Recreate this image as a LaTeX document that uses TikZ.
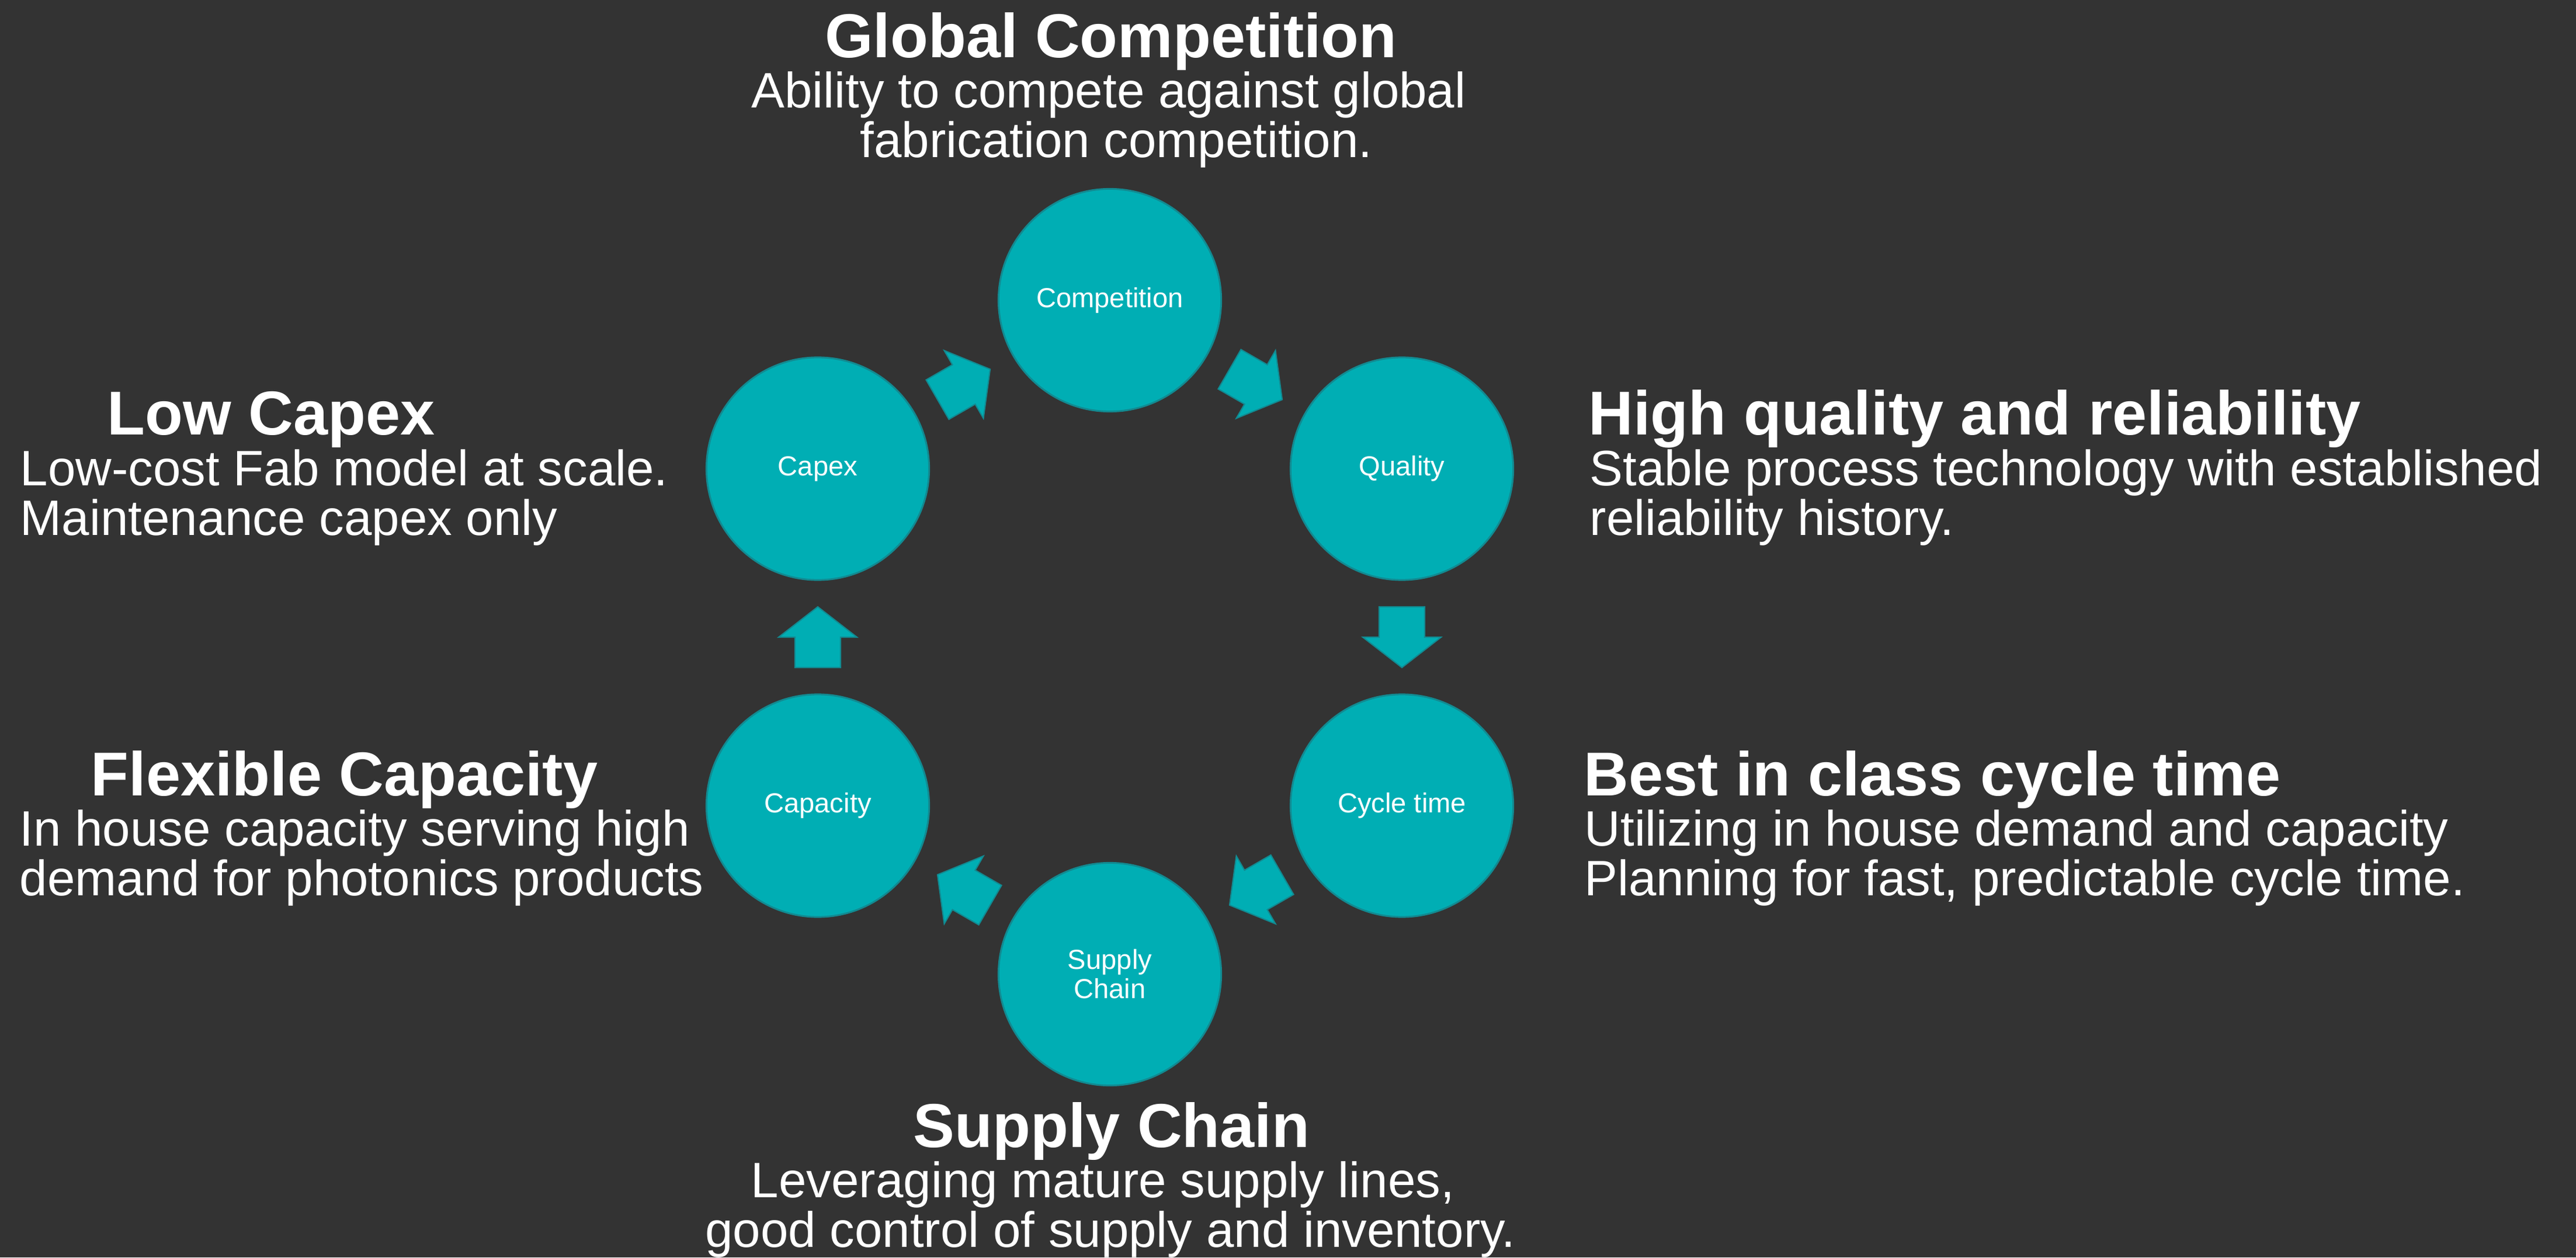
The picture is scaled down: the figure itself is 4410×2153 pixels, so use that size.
\documentclass[tikz,border=0pt]{standalone}
\usepackage{fontspec}
\setmainfont{Liberation Sans}
\usetikzlibrary{calc}
\definecolor{bg}{RGB}{51,51,51}
\definecolor{tealfill}{RGB}{0,174,180}
\definecolor{tealedge}{RGB}{18,138,145}
\tikzset{
  hub/.style={circle, fill=tealfill, draw=tealedge, line width=0.85pt,
    minimum size=3.81cm, inner sep=0pt, text=white, align=center,
    font=\fontsize{13.4pt}{14.2pt}\selectfont},
  ttl/.style={text=white, inner sep=0pt, font=\fontsize{30.2pt}{30pt}\selectfont\bfseries},
  dsc/.style={text=white, inner sep=0pt, font=\fontsize{24.25pt}{24pt}\selectfont},
  blk/.style={fill=tealfill, draw=tealedge, line width=0.6pt, line join=miter}
}
\newcommand\flowarrow[3]{%
  \begin{scope}[shift={($(#1)!0.5!(#2)$)}, rotate=#3]
    \filldraw[blk] (-52,39) -- (0,39) -- (0,67) -- (52,0) -- (0,-67) -- (0,-39) -- (-52,-39) -- cycle;
  \end{scope}}
\begin{document}
\begin{tikzpicture}[x=0.01cm,y=0.01cm]
\fill[bg] (0,0) rectangle (4410,2153);
\useasboundingbox (0,0) rectangle (4410,2153);

% circles
\node[hub] (comp) at (1900,1639) {Competition};
\node[hub] (qual) at (2400,1350.5) {Quality};
\node[hub] (cyc)  at (2400,773.5) {Cycle time};
\node[hub] (sup)  at (1900,485) {Supply\\Chain};
\node[hub] (cap)  at (1400,773.5) {Capacity};
\node[hub] (cpx)  at (1400,1350.5) {Capex};

% block arrows (clockwise)
\flowarrow{comp}{qual}{-30}
\flowarrow{qual}{cyc}{-90}
\flowarrow{cyc}{sup}{-150}
\flowarrow{sup}{cap}{150}
\flowarrow{cap}{cpx}{90}
\flowarrow{cpx}{comp}{30}

% Global Competition
\node[ttl, anchor=base] (gct) at (1902,2054) {Global Competition};
\node[dsc, anchor=base] (gcd1) at (1898,1968) {Ability to compete against global};
\node[dsc, anchor=base] (gcd2) at (1911,1883) {fabrication competition.};

% Low Capex
\node[ttl, anchor=base west] (lct) at (183,1409) {Low Capex};
\node[dsc, anchor=base west] (lcd1) at (34,1321) {Low-cost Fab model at scale.};
\node[dsc, anchor=base west] (lcd2) at (34,1237) {Maintenance capex only};

% High quality
\node[ttl, anchor=base west] (hqt) at (2719,1409) {High quality and reliability};
\node[dsc, anchor=base west] (hqd1) at (2721,1321) {Stable process technology with established};
\node[dsc, anchor=base west] (hqd2) at (2721,1237) {reliability history.};

% Flexible Capacity
\node[ttl, anchor=base west] (fct) at (155,791) {Flexible Capacity};
\node[dsc, anchor=base west] (fcd1) at (33,705) {In house capacity serving high};
\node[dsc, anchor=base west] (fcd2) at (33,620) {demand for photonics products};

% Best in class
\node[ttl, anchor=base west] (bct) at (2711,791) {Best in class cycle time};
\node[dsc, anchor=base west] (bcd1) at (2712,705) {Utilizing in house demand and capacity};
\node[dsc, anchor=base west] (bcd2) at (2712,620) {Planning for fast, predictable cycle time.};

% Supply Chain
\node[ttl, anchor=base] (sct) at (1903,189) {Supply Chain};
\node[dsc, anchor=base] (scd1) at (1888,103) {Leveraging mature supply lines,};
\node[dsc, anchor=base] (scd2) at (1901,18) {good control of supply and inventory.};
\end{tikzpicture}
\end{document}
